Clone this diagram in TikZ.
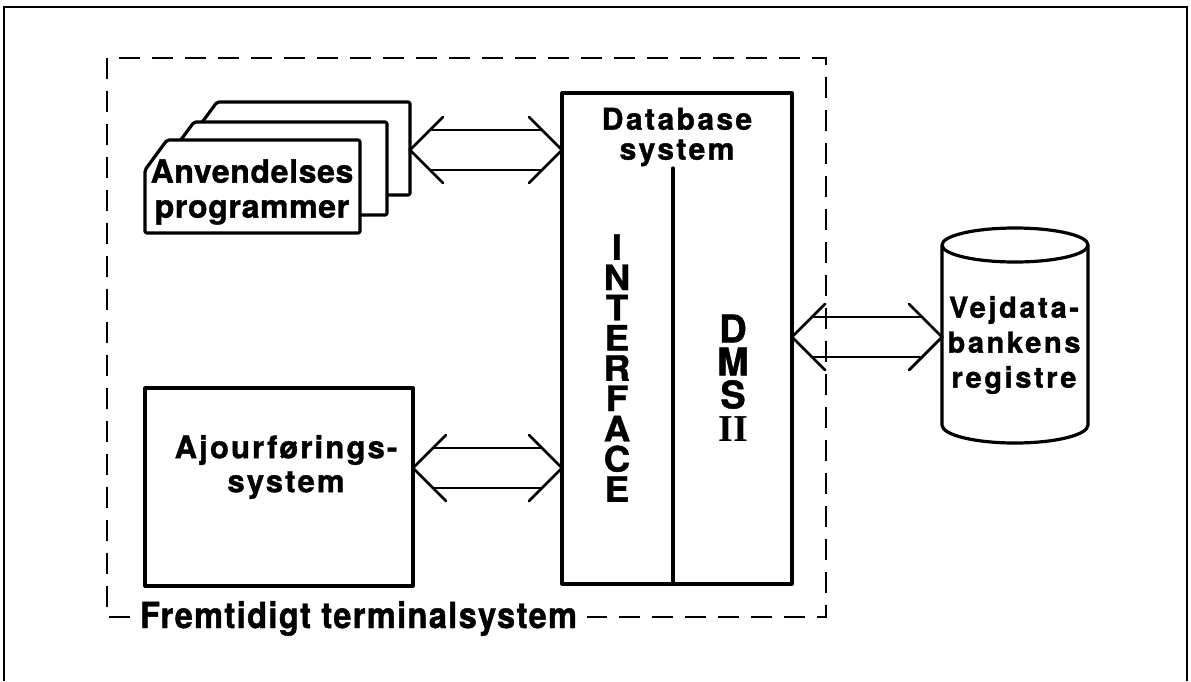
\documentclass[tikz,border=0pt]{standalone}
\usepackage{fontspec}
\setmainfont{TeX Gyre Heros}
\newfontfamily\numeralfont{Liberation Serif}
\usetikzlibrary{calc}

% heavy bold lettering: size, line distance, letter spacing, horizontal stretch
\newcommand\lettering[4]{\fontsize{#1}{#2}\selectfont\bfseries
  \addfontfeatures{LetterSpace=#3, FakeStretch=#4, FakeBold=1.2}}

\tikzset{
  heavy/.style={line width=3.2pt, line join=round, line cap=round},
  box/.style={heavy, draw, rectangle, inner sep=0pt, outer sep=0pt, anchor=north west},
  card/.style={heavy, draw, fill=white, rounded corners=2pt},
  arrowline/.style={line width=2.8pt, line cap=round},
  lbl/.style={inner sep=0pt, align=center, text=black},
  frame/.style={line width=2.4pt},
  boundary/.style={line width=2.8pt, dash pattern=on 21pt off 12pt},
}

% double outline arrow between two tips: left tip, right tip, arm length
\newcommand\hollowarrow[3]{%
  \draw[arrowline] ($(#1)+(#3,-#3)$) -- (#1) -- ($(#1)+(#3,#3)$);
  \draw[arrowline] ($(#2)+(-#3,-#3)$) -- (#2) -- ($(#2)+(-#3,#3)$);
  \draw[arrowline] ($(#1)+(20,-20)$) -- ($(#2)+(-20,-20)$);
  \draw[arrowline] ($(#1)+(20,20)$) -- ($(#2)+(-20,20)$);}

\begin{document}
\begin{tikzpicture}[x=1pt,y=-1pt]
\useasboundingbox (0,0) rectangle (1191,681);

% outer frame
\draw[frame] (4,681) -- (4,7) -- (1187,7) -- (1187,681);

% terminal system boundary with its label
\coordinate (bl) at (107,617);
\node[lbl, anchor=base west, font=\lettering{36}{40}{4}{0.9}] (fts) at (140,628) {Fremtidigt terminalsystem};
\draw[boundary] ($(fts.west |- bl)+(-10,0)$) -- (bl) -- (107,58) -- (826,58) -- (826,617) -- ($(fts.east |- bl)+(10,0)$);

% stack of application programs
\draw[card, shift={(50,-38)}] (145,233) -- (145,170) -- (167,140) -- (360,140) -- (360,233) -- cycle;
\draw[card, shift={(27,-18)}] (145,233) -- (145,170) -- (167,140) -- (360,140) -- (360,233) -- cycle;
\draw[card] (145,233) -- (145,170) -- (167,140) -- (360,140) -- (360,233) -- cycle;
\node[lbl, font=\lettering{32}{35}{2}{1}] (prog) at (252,192) {Anvendelses\\programmer};
\coordinate (stack) at (410,150);

% update system
\node[box, minimum width=268pt, minimum height=198pt] (ajour) at (145,388) {};
\node[lbl, font=\lettering{31}{34}{7}{1}] (ajourtext) at (286,467) {Ajourførings-\\system};

% database system
\node[box, minimum width=230pt, minimum height=491pt] (db) at (562,93) {};
\node[lbl, font=\lettering{30}{30}{8}{1}] (dbtitle) at (677,137) {Database\\system};
\coordinate (divtop) at (673,168);
\draw[heavy] (divtop) -- (divtop |- db.south);
\node[lbl, font=\lettering{35}{30.25}{0}{1.05}] (iface) at (617,368) {I\\N\\T\\E\\R\\F\\A\\C\\E};
\node[lbl, font=\lettering{38}{33}{0}{1}] (dms) at (733,378) {D\\M\\S\\{\numeralfont\bfseries II}};

% road data bank registers
\draw[heavy] (1015,245) ellipse [x radius=73, y radius=17];
\draw[heavy] (942,245) -- (942,425) arc[start angle=180, end angle=0, x radius=73, y radius=18] -- (1088,245);
\node[lbl, font=\lettering{29}{35}{9}{1}] (reg) at (1014,345) {Vejdata-\\bankens\\registre};
\coordinate (cylwest) at (942,337);

% connections
\coordinate (a1r) at (db.west |- stack);
\hollowarrow{stack}{a1r}{33}
\coordinate (a2l) at (ajour.east |- 0,468);
\coordinate (a2r) at (db.west |- a2l);
\hollowarrow{a2l}{a2r}{33}
\coordinate (a3l) at (db.east |- cylwest);
\hollowarrow{a3l}{cylwest}{33}
\end{tikzpicture}
\end{document}
